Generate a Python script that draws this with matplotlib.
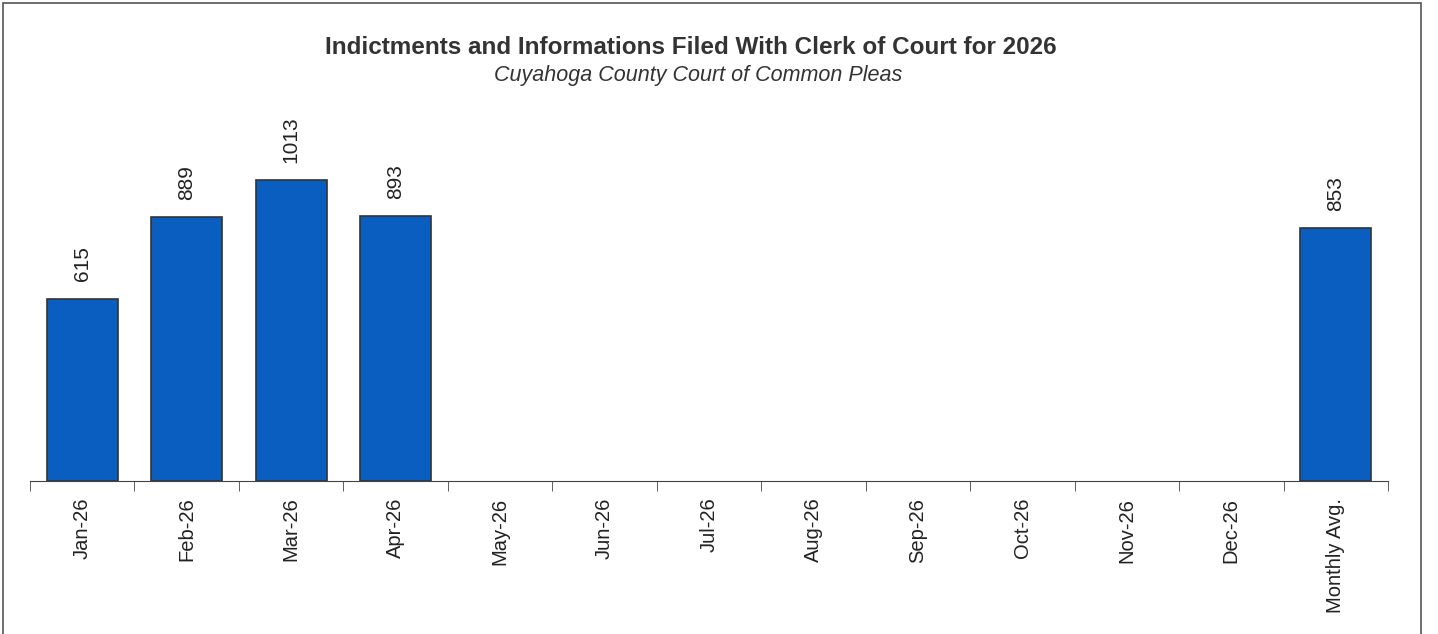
import numpy as np
import matplotlib
matplotlib.use("Agg")
import matplotlib.pyplot as plt
from matplotlib.patches import Rectangle

plt.rcParams['font.family'] = ['Liberation Sans', 'DejaVu Sans']

categories = ["Jan-26", "Feb-26", "Mar-26", "Apr-26", "May-26", "Jun-26", "Jul-26",
              "Aug-26", "Sep-26", "Oct-26", "Nov-26", "Dec-26", "Monthly Avg."]
values = [615, 889, 1013, 893, None, None, None, None, None, None, None, None, 853]

fig = plt.figure(figsize=(14.38, 6.34), dpi=100)

# outer chart border
fig.patches.append(Rectangle((3 / 1438, -0.01), 1418 / 1438, 1.0 - 3 / 634 + 0.01,
                             transform=fig.transFigure, fill=False,
                             edgecolor="#555555", linewidth=1.2))

ax = fig.add_axes([30 / 1438, 1 - 481 / 634, 1358 / 1438, 356 / 634])

x = np.arange(len(categories))
for xi, v in zip(x, values):
    if v is None:
        continue
    ax.bar(xi, v, width=0.68, color="#0A5EBF", edgecolor="#333333", linewidth=1.2)
    ax.text(xi, v + 58, str(v), rotation=90, ha="center", va="bottom",
            fontsize=15, color="#222222")

ax.set_xlim(-0.5, len(categories) - 0.5)
ax.set_ylim(0, 1200)
ax.set_yticks([])
for s in ["top", "right", "left"]:
    ax.spines[s].set_visible(False)
ax.spines["bottom"].set_color("#444444")

ax.set_xticks(x)
ax.set_xticklabels(categories, rotation=90, fontsize=14.5, color="#222222")
ax.tick_params(axis="x", which="major", length=0, pad=12)
ax.set_xticks(np.arange(-0.5, len(categories)), minor=True)
ax.tick_params(axis="x", which="minor", length=7, color="#444444")

fig.text(691 / 1438, 1 - 47 / 634, "Indictments and Informations Filed With Clerk of Court for 2026",
         ha="center", va="center", fontsize=17.5, fontweight="bold", color="#333333")
fig.text(698 / 1438, 1 - 76 / 634, "Cuyahoga County Court of Common Pleas",
         ha="center", va="center", fontsize=15.5, style="italic", color="#333333")

fig.savefig("out.png", dpi=100)
